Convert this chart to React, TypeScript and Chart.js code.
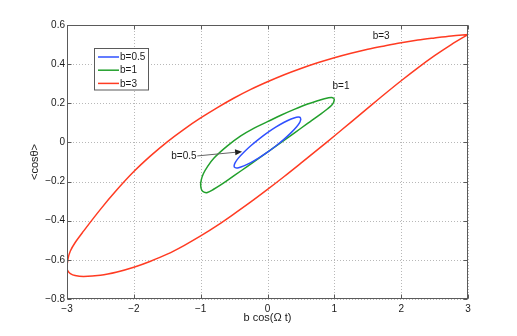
import React, { useEffect, useRef } from "react";
import { Chart, registerables } from "chart.js";

Chart.register(...registerables);

// ---------- data ----------
const seriesLabels = ["b=0.5", "b=1", "b=3"];
const seriesColors = ["#2f50ff", "#22a02c", "#ff3b22"];

// b=0.5 loop
const blueX = [0.5, 0.483, 0.433, 0.354, 0.25, 0.129, 0, -0.129, -0.25, -0.354, -0.433, -0.483, -0.5, -0.483, -0.433, -0.354, -0.25, -0.129, 0, 0.129, 0.25, 0.354, 0.433, 0.483, 0.5];
const blueY = [0.12, 0.129, 0.129, 0.12, 0.103, 0.079, 0.05, 0.017, -0.017, -0.05, -0.079, -0.103, -0.12, -0.129, -0.129, -0.12, -0.103, -0.079, -0.05, -0.017, 0.017, 0.05, 0.079, 0.103, 0.12];

// b=1 loop
const greenX = [1.0, 0.99, 0.96, 0.9, 0.8, 0.6, 0.4, 0.2, 0.0, -0.2, -0.4, -0.6, -0.7, -0.8, -0.9, -0.95, -0.985, -1.0, -0.99, -0.96, -0.9, -0.8, -0.6, -0.4, -0.2, 0.0, 0.2, 0.4, 0.6, 0.8, 0.9, 0.96, 1.0];
const greenY = [0.224, 0.205, 0.19, 0.172, 0.146, 0.097, 0.048, -0.001, -0.05, -0.098, -0.146, -0.194, -0.217, -0.238, -0.256, -0.254, -0.243, -0.218, -0.19, -0.16, -0.125, -0.08, -0.018, 0.033, 0.073, 0.106, 0.139, 0.169, 0.196, 0.218, 0.227, 0.23, 0.224];

// b=3 loop
const redX = [3.0, 2.75, 2.5, 2.25, 2.0, 1.75, 1.5, 1.25, 1.0, 0.75, 0.5, 0.25, 0.0, -0.25, -0.5, -0.75, -1.0, -1.25, -1.5, -1.75, -2.0, -2.25, -2.5, -2.75, -2.88, -2.95, -2.985, -3.0, -2.985, -2.95, -2.875, -2.75, -2.5, -2.25, -2.0, -1.75, -1.5, -1.25, -1.0, -0.75, -0.5, -0.25, 0.0, 0.25, 0.5, 0.75, 1.0, 1.25, 1.5, 1.75, 2.0, 2.25, 2.5, 2.75, 3.0];
const redY = [0.551, 0.5, 0.443, 0.381, 0.315, 0.246, 0.175, 0.104, 0.033, -0.037, -0.106, -0.174, -0.24, -0.304, -0.365, -0.424, -0.478, -0.527, -0.571, -0.607, -0.638, -0.662, -0.679, -0.685, -0.68, -0.67, -0.658, -0.643, -0.595, -0.555, -0.51, -0.452, -0.342, -0.241, -0.149, -0.069, 0.003, 0.067, 0.125, 0.178, 0.227, 0.271, 0.31, 0.346, 0.378, 0.407, 0.433, 0.456, 0.476, 0.493, 0.509, 0.523, 0.534, 0.544, 0.551];

const xTickValues = [-3, -2, -1, 0, 1, 2, 3];
const yTickValues = [-0.8, -0.6, -0.4, -0.2, 0, 0.2, 0.4, 0.6];

const xTitle = "b cos(Ω t)";
const yTitle = "<cosθ>";

const noteTexts = ["b=3", "b=1", "b=0.5"];
const noteX = [1.7, 1.1, -1.25];
const noteY = [0.544, 0.288, -0.069];
const arrowFrom = [-1.05, -0.069];
const arrowTo = [-0.38, -0.047];

const FONT = "'Liberation Sans', Arial, Helvetica, sans-serif";

const fmt = (v: number, dec: number) => {
  const r = Math.round(v * Math.pow(10, dec)) / Math.pow(10, dec);
  return (r < 0 ? "\u2212" : "") + Math.abs(r).toString();
};

const toPoints = (xs: number[], ys: number[]) => xs.map((x, i) => ({ x, y: ys[i] }));

const overlayPlugin = {
  id: "overlay",
  beforeDatasetsDraw(chart: any) {
    const { ctx, chartArea: a, scales } = chart;
    const xs = scales.x;
    const ys = scales.y;
    ctx.save();
    ctx.strokeStyle = "#b8b8b8";
    ctx.lineWidth = 1;
    ctx.setLineDash([1, 2]);
    xTickValues.forEach((v) => {
      const px = Math.round(xs.getPixelForValue(v)) + 0.5;
      ctx.beginPath();
      ctx.moveTo(px, a.top);
      ctx.lineTo(px, a.bottom);
      ctx.stroke();
    });
    yTickValues.forEach((v) => {
      const py = Math.round(ys.getPixelForValue(v)) + 0.5;
      ctx.beginPath();
      ctx.moveTo(a.left, py);
      ctx.lineTo(a.right, py);
      ctx.stroke();
    });
    ctx.restore();
  },
  afterDatasetsDraw(chart: any) {
    const { ctx, chartArea: a, scales } = chart;
    const xs = scales.x;
    const ys = scales.y;
    const L = Math.round(a.left) + 0.5;
    const R = Math.round(a.right) - 0.5;
    const T = Math.round(a.top) + 0.5;
    const B = Math.round(a.bottom) - 0.5;
    ctx.save();
    // axes box
    ctx.strokeStyle = "#5a5a5a";
    ctx.lineWidth = 1;
    ctx.setLineDash([]);
    ctx.strokeRect(L, T, R - L, B - T);
    // inward ticks
    const tl = 4;
    ctx.beginPath();
    xTickValues.forEach((v) => {
      const px = Math.round(xs.getPixelForValue(v)) + 0.5;
      ctx.moveTo(px, B);
      ctx.lineTo(px, B - tl);
      ctx.moveTo(px, T);
      ctx.lineTo(px, T + tl);
    });
    yTickValues.forEach((v) => {
      const py = Math.round(ys.getPixelForValue(v)) + 0.5;
      ctx.moveTo(L, py);
      ctx.lineTo(L + tl, py);
      ctx.moveTo(R, py);
      ctx.lineTo(R - tl, py);
    });
    ctx.stroke();

    // axis titles
    ctx.fillStyle = "#1a1a1a";
    ctx.font = `11px ${FONT}`;
    ctx.textAlign = "center";
    ctx.textBaseline = "middle";
    ctx.fillText(xTitle, (a.left + a.right) / 2, 318);
    ctx.save();
    ctx.translate(35, (a.top + a.bottom) / 2);
    ctx.rotate(-Math.PI / 2);
    ctx.fillText(yTitle, 0, 0);
    ctx.restore();

    // legend
    const bx = 94.5, by = 48.5, bw = 54, bh = 41.5;
    ctx.fillStyle = "#ffffff";
    ctx.fillRect(bx, by, bw, bh);
    ctx.strokeStyle = "#5a5a5a";
    ctx.strokeRect(bx, by, bw, bh);
    ctx.font = `10px ${FONT}`;
    ctx.textAlign = "left";
    ctx.textBaseline = "middle";
    seriesLabels.forEach((lab, i) => {
      const yy = 57 + i * 13.2;
      ctx.strokeStyle = seriesColors[i];
      ctx.lineWidth = 1.5;
      ctx.beginPath();
      ctx.moveTo(98, yy);
      ctx.lineTo(119, yy);
      ctx.stroke();
      ctx.fillStyle = "#1a1a1a";
      ctx.fillText(lab, 120, yy + 0.5);
    });

    // annotations
    ctx.font = `10px ${FONT}`;
    ctx.textAlign = "center";
    ctx.fillStyle = "#1a1a1a";
    noteTexts.forEach((t, i) => {
      ctx.fillText(t, xs.getPixelForValue(noteX[i]), ys.getPixelForValue(noteY[i]));
    });
    // arrow
    const x0 = xs.getPixelForValue(arrowFrom[0]);
    const y0 = ys.getPixelForValue(arrowFrom[1]);
    const x1 = xs.getPixelForValue(arrowTo[0]);
    const y1 = ys.getPixelForValue(arrowTo[1]);
    const ang = Math.atan2(y1 - y0, x1 - x0);
    const hl = 7, hw = 3;
    ctx.strokeStyle = "#666666";
    ctx.lineWidth = 1;
    ctx.beginPath();
    ctx.moveTo(x0, y0);
    ctx.lineTo(x1 - hl * Math.cos(ang), y1 - hl * Math.sin(ang));
    ctx.stroke();
    ctx.fillStyle = "#222222";
    ctx.beginPath();
    ctx.moveTo(x1, y1);
    ctx.lineTo(x1 - hl * Math.cos(ang) + hw * Math.sin(ang), y1 - hl * Math.sin(ang) - hw * Math.cos(ang));
    ctx.lineTo(x1 - hl * Math.cos(ang) - hw * Math.sin(ang), y1 - hl * Math.sin(ang) + hw * Math.cos(ang));
    ctx.closePath();
    ctx.fill();
    ctx.restore();
  },
};

export default function App() {
  const canvasRef = useRef<HTMLCanvasElement | null>(null);

  useEffect(() => {
    const canvas = canvasRef.current;
    if (!canvas) return;
    Chart.defaults.font.family = FONT;
    const xsArr = [blueX, greenX, redX];
    const ysArr = [blueY, greenY, redY];
    const chart = new Chart(canvas, {
      type: "scatter",
      data: {
        datasets: seriesLabels.map((lab, i) => ({
          label: lab,
          data: toPoints(xsArr[i], ysArr[i]),
          showLine: true,
          borderColor: seriesColors[i],
          backgroundColor: seriesColors[i],
          borderWidth: 1.5,
          pointRadius: 0,
          pointHoverRadius: 0,
          tension: 0.35,
          fill: false,
        })),
      },
      options: {
        responsive: false,
        animation: false,
        devicePixelRatio: 1,
        layout: { padding: { top: 25, right: 49, left: 0, bottom: 0 } },
        plugins: {
          legend: { display: false },
          tooltip: { enabled: false },
          title: { display: false },
        },
        events: [],
        scales: {
          x: {
            type: "linear",
            min: -3,
            max: 3,
            afterBuildTicks: (scale: any) => {
              scale.ticks = xTickValues.map((v) => ({ value: v }));
            },
            afterFit: (scale: any) => {
              scale.height = 37;
            },
            grid: { display: false, drawTicks: false },
            border: { display: false },
            ticks: {
              padding: 4,
              color: "#1a1a1a",
              font: { size: 10, family: FONT },
              maxRotation: 0,
              autoSkip: false,
              callback: (v: any) => fmt(Number(v), 0),
            },
          },
          y: {
            type: "linear",
            min: -0.8,
            max: 0.6,
            afterBuildTicks: (scale: any) => {
              scale.ticks = yTickValues.map((v) => ({ value: v }));
            },
            afterFit: (scale: any) => {
              scale.width = 67;
            },
            grid: { display: false, drawTicks: false },
            border: { display: false },
            ticks: {
              padding: 2,
              color: "#1a1a1a",
              font: { size: 10, family: FONT },
              autoSkip: false,
              callback: (v: any) => fmt(Number(v), 1),
            },
          },
        },
      },
      plugins: [overlayPlugin],
    });
    return () => chart.destroy();
  }, []);

  return (
    <div style={{ position: "fixed", left: 0, top: 0, width: 517, height: 336, background: "#fff" }}>
      <canvas ref={canvasRef} width={517} height={336} style={{ width: 517, height: 336, display: "block" }} />
    </div>
  );
}
